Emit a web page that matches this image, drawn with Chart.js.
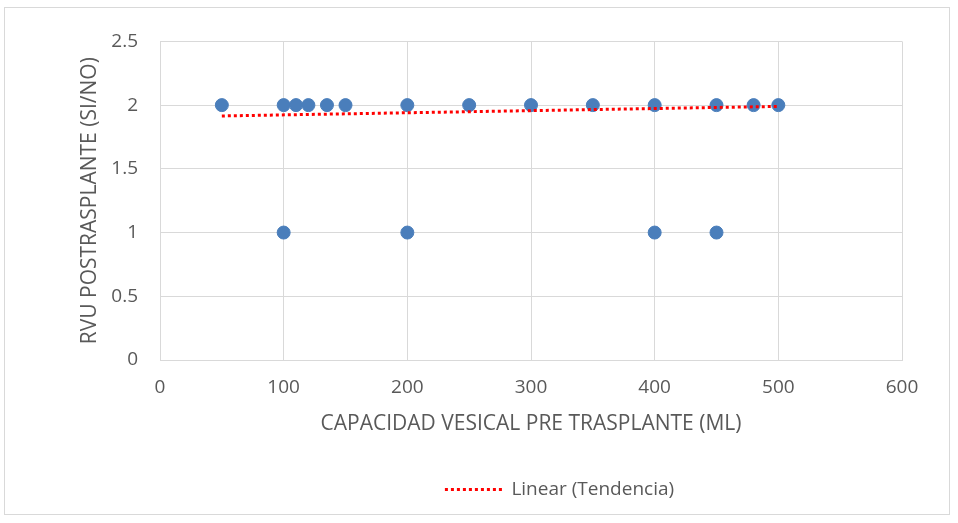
<!DOCTYPE html>
<html>
<head>
<meta charset="utf-8">
<script src="https://cdn.jsdelivr.net/npm/chart.js@4"></script>
<style>
  html, body { margin: 0; padding: 0; background: #fff; }
  #box {
    position: absolute; left: 4px; top: 7px;
    width: 944px; height: 506px;
    border: 1px solid #d9d9d9;
  }
</style>
</head>
<body>
<div id="box"><canvas id="chart"></canvas></div>
<script>
// capacidad vesical (ml) vs RVU (2 = no, 1 = si)
const capacidad = [50, 100, 110, 120, 135, 150, 200, 250, 300, 350, 400, 450, 480, 500, 100, 200, 400, 450];
const rvu = [2, 2, 2, 2, 2, 2, 2, 2, 2, 2, 2, 2, 2, 2, 1, 1, 1, 1];

// linea de tendencia
const tendenciaX = [50, 500];
const tendenciaY = [1.915, 1.99];

const xTicks = [0, 100, 200, 300, 400, 500, 600];
const yTicks = [0, 0.5, 1, 1.5, 2, 2.5];

const grey = "#595959";
const red = "#ff0000";
const font = "'Open Sans', 'Liberation Sans', sans-serif";

// the legend sits right of centre in the original
const legendShift = {
  id: "legendShift",
  afterLayout(chart) {
    chart.legend.left += 70;
    chart.legend.right += 70;
  },
};

const ctx = document.getElementById("chart").getContext("2d");

new Chart(ctx, {
  type: "scatter",
  data: {
    datasets: [
      {
        label: "Linear (Tendencia)",
        type: "line",
        data: tendenciaX.map((x, i) => ({ x: x, y: tendenciaY[i] })),
        borderColor: red,
        borderWidth: 3,
        borderDash: [3, 3],
        borderCapStyle: "butt",
        pointRadius: 0,
        fill: false,
        order: 0,
      },
      {
        label: "RVU",
        data: capacidad.map((x, i) => ({ x: x, y: rvu[i] })),
        backgroundColor: "#4a7ebb",
        borderColor: "#4a7ebb",
        pointRadius: 6.5,
        pointHoverRadius: 6.5,
        order: 1,
      },
    ],
  },
  plugins: [legendShift],
  options: {
    responsive: true,
    maintainAspectRatio: false,
    animation: false,
    layout: { padding: { left: 72, right: 47, top: 32, bottom: 5 } },
    plugins: {
      tooltip: { enabled: false },
      legend: {
        position: "bottom",
        labels: {
          usePointStyle: true,
          pointStyleWidth: 57,
          boxWidth: 57,
          boxHeight: 3,
          padding: 20,
          font: { family: font, size: 19 },
          // only the trend line shows in the legend, drawn dotted
          generateLabels: (chart) => [{
            text: chart.data.datasets[0].label,
            datasetIndex: 0,
            fillStyle: red,
            strokeStyle: red,
            lineWidth: 3,
            lineDash: [3, 3],
            lineCap: "butt",
            pointStyle: "line",
            fontColor: grey,
            hidden: false,
          }],
        },
      },
    },
    scales: {
      x: {
        type: "linear",
        min: 0,
        max: 600,
        afterBuildTicks: (axis) => { axis.ticks = xTicks.map((v) => ({ value: v })); },
        afterFit: (axis) => { axis.height = 100; },
        grid: { color: "#d9d9d9", drawTicks: false },
        border: { color: "#d9d9d9" },
        ticks: { color: grey, padding: 16, font: { family: font, size: 19 } },
        title: {
          display: true,
          text: "CAPACIDAD VESICAL PRE TRASPLANTE (ML)",
          color: grey,
          font: { family: font, size: 21 },
          padding: { top: 0, bottom: 23 },
        },
      },
      y: {
        min: 0,
        max: 2.5,
        afterBuildTicks: (axis) => { axis.ticks = yTicks.map((v) => ({ value: v })); },
        afterFit: (axis) => { axis.width = 83; },
        grid: { color: "#d9d9d9", drawTicks: false },
        border: { display: false },
        ticks: {
          color: grey,
          padding: 22,
          font: { family: font, size: 19 },
          callback: (v) => String(v),
        },
        title: {
          display: true,
          text: "RVU POSTRASPLANTE (SI/NO)",
          color: grey,
          font: { family: font, size: 21 },
          padding: { top: 0, bottom: 0 },
        },
      },
    },
  },
});
</script>
</body>
</html>
